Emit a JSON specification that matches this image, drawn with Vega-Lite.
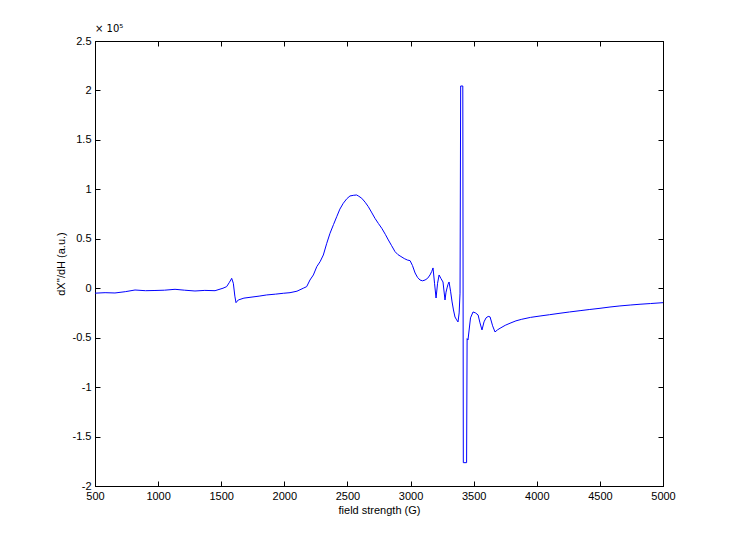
{
  "$schema": "https://vega.github.io/schema/vega-lite/v6.json",
  "width": 568,
  "height": 445,
  "autosize": {"type": "none"},
  "padding": {"left": 95, "top": 41, "right": 70, "bottom": 60},
  "background": "white",
  "title": {"text": "× 10⁵", "anchor": "start", "frame": "group", "offset": 1, "fontSize": 10, "fontWeight": "normal", "font": "DejaVu Sans", "color": "black"},
  "config": {
    "view": {"stroke": "black", "strokeWidth": 1},
    "axis": {"labelFont": "Liberation Sans", "labelFontSize": 11, "labelColor": "black", "titleFont": "Liberation Sans", "titleFontSize": 11, "titleFontWeight": "normal", "titleColor": "black", "domainColor": "black", "tickColor": "black", "grid": false}
  },
  "data": {"values": [
    {"field": 500, "val": -0.05}, {"field": 580, "val": -0.045}, {"field": 658, "val": -0.048}, {"field": 740, "val": -0.035},
    {"field": 817, "val": -0.018}, {"field": 900, "val": -0.025}, {"field": 975, "val": -0.023}, {"field": 1050, "val": -0.02},
    {"field": 1134, "val": -0.011}, {"field": 1210, "val": -0.02}, {"field": 1292, "val": -0.028}, {"field": 1370, "val": -0.022},
    {"field": 1451, "val": -0.025}, {"field": 1514, "val": 0.0}, {"field": 1543, "val": 0.016}, {"field": 1565, "val": 0.06},
    {"field": 1583, "val": 0.10}, {"field": 1596, "val": 0.05}, {"field": 1608, "val": -0.08}, {"field": 1617, "val": -0.146},
    {"field": 1635, "val": -0.119}, {"field": 1680, "val": -0.10}, {"field": 1728, "val": -0.092}, {"field": 1800, "val": -0.08},
    {"field": 1860, "val": -0.068}, {"field": 1930, "val": -0.06}, {"field": 1992, "val": -0.051}, {"field": 2045, "val": -0.045},
    {"field": 2100, "val": -0.03}, {"field": 2150, "val": 0.0}, {"field": 2177, "val": 0.016}, {"field": 2203, "val": 0.083},
    {"field": 2230, "val": 0.134}, {"field": 2257, "val": 0.218}, {"field": 2283, "val": 0.268}, {"field": 2309, "val": 0.336},
    {"field": 2335, "val": 0.45}, {"field": 2362, "val": 0.556}, {"field": 2390, "val": 0.645}, {"field": 2415, "val": 0.723},
    {"field": 2440, "val": 0.80}, {"field": 2467, "val": 0.859}, {"field": 2495, "val": 0.905}, {"field": 2520, "val": 0.933},
    {"field": 2550, "val": 0.94}, {"field": 2573, "val": 0.943}, {"field": 2590, "val": 0.93}, {"field": 2613, "val": 0.91},
    {"field": 2640, "val": 0.87}, {"field": 2665, "val": 0.825}, {"field": 2690, "val": 0.77}, {"field": 2718, "val": 0.707},
    {"field": 2745, "val": 0.655}, {"field": 2772, "val": 0.606}, {"field": 2800, "val": 0.545}, {"field": 2824, "val": 0.488},
    {"field": 2850, "val": 0.43}, {"field": 2877, "val": 0.37}, {"field": 2900, "val": 0.34}, {"field": 2917, "val": 0.326},
    {"field": 2950, "val": 0.30}, {"field": 2975, "val": 0.285}, {"field": 2996, "val": 0.279}, {"field": 3015, "val": 0.23},
    {"field": 3036, "val": 0.154}, {"field": 3055, "val": 0.11}, {"field": 3075, "val": 0.083}, {"field": 3095, "val": 0.075},
    {"field": 3115, "val": 0.083}, {"field": 3135, "val": 0.10}, {"field": 3154, "val": 0.134}, {"field": 3168, "val": 0.17},
    {"field": 3178, "val": 0.205}, {"field": 3190, "val": 0.05}, {"field": 3202, "val": -0.099}, {"field": 3214, "val": 0.05},
    {"field": 3226, "val": 0.134}, {"field": 3240, "val": 0.10}, {"field": 3257, "val": 0.063}, {"field": 3273, "val": -0.119},
    {"field": 3281, "val": -0.04}, {"field": 3289, "val": 0.003}, {"field": 3297, "val": 0.04}, {"field": 3305, "val": 0.063},
    {"field": 3317, "val": -0.03}, {"field": 3329, "val": -0.139}, {"field": 3340, "val": -0.22}, {"field": 3352, "val": -0.291},
    {"field": 3365, "val": -0.32}, {"field": 3376, "val": -0.341}, {"field": 3385, "val": -0.25}, {"field": 3392, "val": -0.05},
    {"field": 3397, "val": 2.045}, {"field": 3414, "val": 2.045}, {"field": 3418, "val": -1.764}, {"field": 3444, "val": -1.764},
    {"field": 3448, "val": -0.51}, {"field": 3455, "val": -0.523}, {"field": 3475, "val": -0.30}, {"field": 3495, "val": -0.24},
    {"field": 3515, "val": -0.25}, {"field": 3535, "val": -0.27}, {"field": 3550, "val": -0.35}, {"field": 3566, "val": -0.422},
    {"field": 3582, "val": -0.34}, {"field": 3598, "val": -0.30}, {"field": 3615, "val": -0.285}, {"field": 3630, "val": -0.29},
    {"field": 3650, "val": -0.38}, {"field": 3669, "val": -0.442}, {"field": 3690, "val": -0.42}, {"field": 3709, "val": -0.405},
    {"field": 3750, "val": -0.375}, {"field": 3788, "val": -0.354}, {"field": 3835, "val": -0.33}, {"field": 3881, "val": -0.314},
    {"field": 3950, "val": -0.295}, {"field": 4026, "val": -0.281}, {"field": 4100, "val": -0.268}, {"field": 4184, "val": -0.253},
    {"field": 4260, "val": -0.24}, {"field": 4343, "val": -0.227}, {"field": 4420, "val": -0.215}, {"field": 4501, "val": -0.203},
    {"field": 4580, "val": -0.19}, {"field": 4659, "val": -0.179}, {"field": 4740, "val": -0.17}, {"field": 4818, "val": -0.162},
    {"field": 4900, "val": -0.155}, {"field": 5000, "val": -0.146}
  ]},
  "layer": [
    {
      "mark": {"type": "line", "color": "blue", "strokeWidth": 1, "clip": true},
      "encoding": {
        "x": {"field": "field", "type": "quantitative", "scale": {"domain": [500, 5000], "nice": false, "zero": false},
              "axis": {"orient": "bottom", "title": "field strength (G)", "values": [500,1000,1500,2000,2500,3000,3500,4000,4500,5000], "labelExpr": "'' + datum.value", "tickSize": -5, "labelPadding": 9, "titlePadding": 3, "labelFlush": false, "labelOverlap": false}},
        "y": {"field": "val", "type": "quantitative", "scale": {"domain": [-2, 2.5], "nice": false, "zero": false},
              "axis": {"orient": "left", "title": "dX''/dH (a.u.)", "values": [-2,-1.5,-1,-0.5,0,0.5,1,1.5,2,2.5], "labelExpr": "'' + datum.value", "tickSize": -5, "labelPadding": 9, "titlePadding": 6, "labelFlush": false, "labelOverlap": false}}
      }
    },
    {
      "mark": {"type": "line", "opacity": 0},
      "encoding": {
        "x": {"field": "field", "type": "quantitative", "axis": {"orient": "top", "title": null, "labels": false, "values": [500,1000,1500,2000,2500,3000,3500,4000,4500,5000], "tickSize": -5}},
        "y": {"field": "val", "type": "quantitative", "axis": {"orient": "right", "title": null, "labels": false, "values": [-2,-1.5,-1,-0.5,0,0.5,1,1.5,2,2.5], "tickSize": -5}}
      }
    }
  ],
  "resolve": {"axis": {"x": "independent", "y": "independent"}}
}
